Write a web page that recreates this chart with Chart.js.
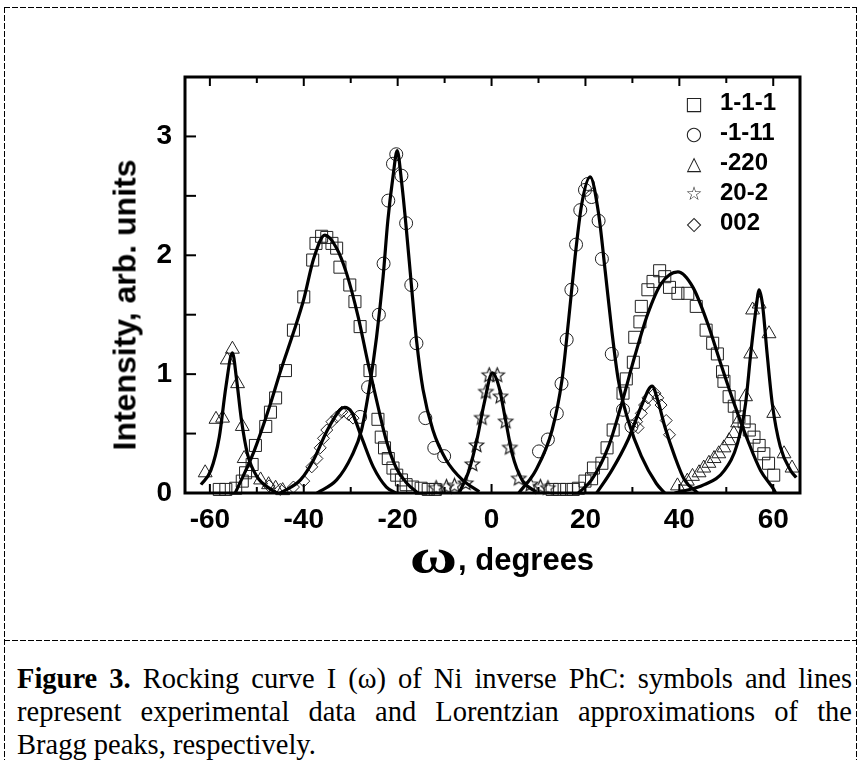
<!DOCTYPE html>
<html>
<head>
<meta charset="utf-8">
<title>Rocking curve</title>
<script src="https://cdn.jsdelivr.net/npm/chart.js@4.4.1/dist/chart.umd.min.js"></script>
<style>
    body { margin: 0; background: #fff; }
    #page { position: relative; width: 860px; height: 760px; overflow: hidden; background: #fff; }
    #chartBox { position: absolute; left: 0; top: 0; width: 860px; height: 640px; }
    .dash-h { position: absolute; height: 1px; background: repeating-linear-gradient(to right, #000 0 6px, transparent 6px 8px); }
    .dash-v { position: absolute; width: 1px; background: repeating-linear-gradient(to bottom, #000 0 6px, transparent 6px 8px); }
    #yTitle {
        position: absolute; left: 125px; top: 305px;
        transform: translate(-50%, -50%) rotate(-90deg);
        font: bold 32px "Liberation Sans", Arial, sans-serif; white-space: nowrap;
    }
    #xTitle {
        position: absolute; left: 502px; top: 556px; transform: translate(-50%, -50%);
        font: bold 31px "Liberation Sans", Arial, sans-serif; white-space: nowrap;
    }
    #xTitle .omega {
        display: inline-block; font: bold 48px "Liberation Serif", serif;
        transform: scaleX(1.35); margin: 0 7px 0 6px; vertical-align: -3px;
    }
    #legend { position: absolute; left: 678px; top: 88px; margin: 0; padding: 0; list-style: none; }
    #legend li { height: 30px; line-height: 30px; white-space: nowrap; }
    #legend .sym { display: inline-block; width: 32px; text-align: center; font: 19px "DejaVu Sans", sans-serif; color: #222; }
    #legend .txt { font: bold 24px "Liberation Sans", Arial, sans-serif; margin-left: 10px; }
    #caption { position: absolute; left: 17px; top: 662px; width: 835px; font: 28.5px "Liberation Serif", "Times New Roman", serif; line-height: 33px; }
    #caption .just { text-align: justify; text-align-last: justify; white-space: nowrap; }
</style>
</head>
<body>
<div id="page">
    <div id="chartBox"><canvas id="rockingChart"></canvas></div>
    <div id="yTitle">Intensity, arb. units</div>
    <div id="xTitle"><span class="omega">ω</span>, degrees</div>
    <ul id="legend"></ul>
    <div class="dash-h" style="left:4px; top:7px; width:853px;"></div>
    <div class="dash-v" style="left:4px; top:7px; height:753px;"></div>
    <div class="dash-v" style="left:856px; top:7px; height:753px;"></div>
    <div class="dash-h" style="left:4px; top:640px; width:853px;"></div>
    <div id="caption">
        <div class="just"><b>Figure 3.</b> Rocking curve I (ω) of Ni inverse PhC: symbols and lines</div>
        <div class="just">represent experimental data and Lorentzian approximations of the</div>
        <div>Bragg peaks, respectively.</div>
    </div>
</div>
<script>
// series names and legend symbols
const seriesLabels = ['1-1-1', '-1-11', '-220', '20-2', '002'];
const legendSymbols = ['□', '○', '△', '☆', '◇'];

// axes
const xTickLabels = [-60, -40, -20, 0, 20, 40, 60];
const yTickLabels = [0, 1, 2, 3];

// experimental points [omega, intensity]
const sqPoints = [
    [-58.0, 0.03], [-56.6, 0.03], [-54.5, 0.04], [-53.1, 0.10], [-52.4, 0.17], [-51.0, 0.24],
    [-50.3, 0.40], [-48.1, 0.56], [-47.1, 0.68], [-46.0, 0.80], [-43.9, 1.03], [-42.2, 1.37],
    [-40.0, 1.65], [-38.1, 1.96], [-37.4, 2.10], [-36.2, 2.16], [-35.1, 2.15], [-34.0, 2.10],
    [-33.0, 2.06], [-32.3, 1.90], [-30.2, 1.75], [-29.1, 1.61], [-28.0, 1.40], [-25.9, 1.03],
    [-24.2, 0.62], [-23.5, 0.47], [-22.8, 0.38], [-22.0, 0.29], [-21.0, 0.21], [-20.2, 0.15],
    [-19.2, 0.11], [-18.2, 0.07], [-16.8, 0.05], [-15.0, 0.04], [-13.5, 0.03], [-12.0, 0.03],
    [12.9, 0.03], [14.5, 0.03], [16.0, 0.03], [17.4, 0.03], [18.5, 0.04], [19.9, 0.10],
    [21.3, 0.12], [21.7, 0.21], [23.5, 0.25], [24.6, 0.38], [25.9, 0.53], [28.0, 0.84],
    [28.7, 0.96], [30.2, 1.10], [30.5, 1.31], [31.6, 1.44], [31.9, 1.57], [33.3, 1.71],
    [34.4, 1.78], [35.8, 1.87], [36.9, 1.82], [37.9, 1.73], [39.7, 1.68], [41.8, 1.68],
    [43.6, 1.57], [45.7, 1.37], [47.1, 1.26], [48.1, 1.17], [49.2, 1.02], [49.5, 0.94],
    [50.6, 0.81], [51.7, 0.73], [52.7, 0.64], [53.8, 0.60], [54.9, 0.53], [55.9, 0.47],
    [57.0, 0.40], [58.0, 0.33], [59.0, 0.25], [60.1, 0.15]
];
const ciPoints = [
    [-28.0, 0.64], [-26.3, 0.89], [-24.0, 1.50], [-23.0, 1.93], [-22.0, 2.46], [-21.0, 2.77],
    [-20.3, 2.85], [-19.2, 2.67], [-18.2, 2.27], [-17.1, 1.75], [-16.0, 1.26], [-14.1, 0.63],
    [-12.2, 0.38], [-10.1, 0.31],
    [10.1, 0.35], [12.0, 0.45], [13.9, 0.67], [14.9, 0.92], [16.0, 1.29], [17.0, 1.71],
    [18.0, 2.09], [18.9, 2.38], [19.9, 2.55], [20.5, 2.60], [21.3, 2.49], [22.8, 2.29],
    [23.5, 1.97], [25.6, 1.17], [28.0, 0.70], [29.8, 0.56]
];
const trPoints = [
    [-61.0, 0.17], [-58.7, 0.62], [-57.3, 0.63], [-56.3, 1.12], [-55.2, 1.21], [-54.1, 0.92],
    [-53.1, 0.56], [-52.7, 0.29], [-51.5, 0.17], [-49.2, 0.11], [-47.5, 0.07], [-46.0, 0.04],
    [-44.5, 0.02],
    [39.6, 0.06], [41.7, 0.10], [42.8, 0.14], [44.2, 0.17], [45.2, 0.21], [46.3, 0.25],
    [47.4, 0.29], [48.4, 0.33], [49.5, 0.38], [50.6, 0.44], [51.6, 0.50], [52.4, 0.59],
    [54.1, 0.81], [55.2, 1.17], [55.6, 1.54], [57.0, 1.59], [59.1, 1.34], [60.1, 0.67],
    [62.3, 0.33], [64.0, 0.21]
];
const stPoints = [
    [-11.8, 0.04], [-9.6, 0.05], [-7.9, 0.06], [-5.5, 0.08], [-4.1, 0.24], [-3.2, 0.40],
    [-2.1, 0.63], [-1.2, 0.85], [-0.5, 0.99], [1.2, 0.99], [1.9, 0.81], [3.0, 0.60],
    [3.9, 0.38], [5.8, 0.12], [8.3, 0.07], [10.4, 0.05], [12.0, 0.04]
];
const diPoints = [
    [-47.4, 0.06], [-45.0, 0.03], [-42.2, 0.05], [-40.0, 0.10], [-38.3, 0.22], [-37.2, 0.29],
    [-36.5, 0.38], [-35.8, 0.46], [-35.1, 0.53], [-34.0, 0.60], [-33.0, 0.64], [-31.9, 0.68],
    [-30.5, 0.66], [-29.5, 0.63],
    [30.9, 0.60], [31.2, 0.55], [31.9, 0.67], [32.6, 0.74], [33.3, 0.80], [34.8, 0.84],
    [35.4, 0.80], [36.1, 0.74], [37.2, 0.61], [37.9, 0.49]
];

// Lorentzian fit lines
const fitSqLeft = [
    [-54.6, 0], [-50.6, 0.35], [-47.1, 0.75], [-45.0, 1.02], [-42.2, 1.35], [-40.0, 1.63],
    [-37.9, 1.97], [-35.5, 2.17], [-33.0, 2.06], [-30.9, 1.85], [-28.4, 1.48], [-26.3, 1.09],
    [-24.2, 0.73], [-22.4, 0.44], [-20.3, 0.21], [-18.0, 0.08], [-15.7, 0]
];
const fitSqRight = [
    [18.5, 0], [21.3, 0.11], [24.9, 0.39], [27.7, 0.75], [30.5, 1.15], [33.3, 1.51],
    [36.1, 1.76], [39.7, 1.86], [42.9, 1.73], [46.0, 1.43], [48.8, 1.09], [51.7, 0.75],
    [54.5, 0.45], [57.3, 0.19], [60.1, 0.03], [60.5, 0]
];
const fitCiLeft = [
    [-37.2, 0], [-33.0, 0.11], [-29.8, 0.31], [-27.7, 0.53], [-25.9, 0.92], [-24.5, 1.31],
    [-23.1, 1.82], [-22.1, 2.29], [-21.0, 2.66], [-20.1, 2.88], [-19.2, 2.63], [-18.2, 2.24],
    [-17.1, 1.76], [-16.0, 1.29], [-14.6, 0.87], [-12.5, 0.53], [-9.7, 0.28], [-6.2, 0.11],
    [-2.6, 0.01]
];
const fitCiRight = [
    [5.8, 0], [9.4, 0.19], [12.9, 0.53], [15.0, 0.95], [16.4, 1.45], [17.8, 1.99],
    [19.2, 2.43], [21.0, 2.66], [22.8, 2.35], [24.2, 1.87], [25.6, 1.37], [27.0, 0.95],
    [29.1, 0.61], [31.9, 0.31], [35.1, 0.08], [36.9, 0]
];
const fitTrLeft = [
    [-61.9, 0.07], [-59.8, 0.19], [-58.0, 0.47], [-56.6, 0.89], [-55.2, 1.18], [-54.3, 0.95],
    [-53.3, 0.62], [-52.0, 0.33], [-50.0, 0.14], [-47.0, 0.03], [-45.7, 0]
];
const fitTrRight = [
    [39.0, 0], [45.3, 0.07], [49.6, 0.19], [52.4, 0.42], [54.1, 0.75], [55.2, 1.17],
    [56.3, 1.54], [57.0, 1.71], [57.7, 1.59], [58.7, 1.17], [59.8, 0.75], [61.5, 0.39],
    [63.7, 0.19], [64.9, 0.13]
];
const fitSt = [
    [-6.9, 0], [-4.8, 0.19], [-3.0, 0.47], [-1.6, 0.75], [0.2, 1.01], [1.6, 0.89],
    [3.0, 0.61], [4.4, 0.33], [6.5, 0.11], [9.4, 0.01]
];
const fitDiLeft = [
    [-45.0, 0], [-40.7, 0.11], [-37.9, 0.28], [-35.1, 0.52], [-32.3, 0.70], [-31.3, 0.72],
    [-29.8, 0.68], [-27.7, 0.47], [-25.2, 0.22], [-22.4, 0.05], [-20.3, 0]
];
const fitDiRight = [
    [22.4, 0], [25.6, 0.19], [29.1, 0.45], [31.9, 0.73], [34.2, 0.90], [35.4, 0.78],
    [36.9, 0.56], [39.0, 0.31], [41.1, 0.11], [43.9, 0]
];

document.addEventListener('DOMContentLoaded', function() {
    const toXY = arr => arr.map(p => ({ x: p[0], y: p[1] }));
    const ink = '#222';

    // five-point open star, Chart.js has no such point style
    function starCanvas(r) {
        const c = document.createElement('canvas');
        const s = Math.ceil(r * 2 + 4);
        c.width = c.height = s;
        const g = c.getContext('2d');
        g.strokeStyle = ink;
        g.lineWidth = 1.2;
        g.beginPath();
        for (let k = 0; k < 10; k++) {
            const rad = k % 2 ? r * 0.45 : r;
            const a = -Math.PI / 2 + k * Math.PI / 5;
            const px = s / 2 + rad * Math.cos(a), py = s / 2 + rad * Math.sin(a);
            if (k) g.lineTo(px, py); else g.moveTo(px, py);
        }
        g.closePath();
        g.stroke();
        return c;
    }

    // legend in the top right corner of the plot
    const legend = document.getElementById('legend');
    seriesLabels.forEach((label, i) => {
        const li = document.createElement('li');
        li.innerHTML = '<span class="sym">' + legendSymbols[i] + '</span><span class="txt">' + label + '</span>';
        legend.appendChild(li);
    });

    function markers(label, pts, style, radius) {
        return {
            label: label,
            data: toXY(pts),
            showLine: false,
            pointStyle: style,
            pointRadius: radius,
            pointHoverRadius: radius,
            pointBorderWidth: 1,
            borderColor: ink,
            backgroundColor: 'rgba(0,0,0,0)',
            clip: false
        };
    }

    function fitLine(pts) {
        return {
            label: 'fit',
            data: toXY(pts),
            showLine: true,
            pointRadius: 0,
            borderColor: '#000',
            borderWidth: 3.2,
            cubicInterpolationMode: 'monotone',
            fill: false
        };
    }

    // inward ticks and the box round the plot
    const frameTicks = {
        id: 'frameTicks',
        afterDraw(chart) {
            const ctx = chart.ctx;
            const a = chart.chartArea;
            const xs = chart.scales.x, ys = chart.scales.y;
            ctx.save();
            ctx.strokeStyle = '#000';
            ctx.lineWidth = 2;
            for (let v = -60; v <= 60; v += 10) {
                const px = xs.getPixelForValue(v);
                const len = v % 20 === 0 ? 9 : 6;
                ctx.beginPath();
                ctx.moveTo(px, a.bottom); ctx.lineTo(px, a.bottom - len);
                ctx.moveTo(px, a.top); ctx.lineTo(px, a.top + len);
                ctx.stroke();
            }
            for (let v = 0.5; v < 3.5; v += 0.5) {
                const py = ys.getPixelForValue(v);
                ctx.beginPath();
                ctx.moveTo(a.left, py); ctx.lineTo(a.left + 11, py);
                ctx.stroke();
            }
            ctx.lineWidth = 3;
            ctx.strokeRect(a.left, a.top, a.right - a.left, a.bottom - a.top);
            ctx.restore();
        }
    };

    const tickFont = { family: '"Liberation Sans", Arial, sans-serif', size: 28, weight: 'bold' };

    new Chart(document.getElementById('rockingChart'), {
        type: 'scatter',
        data: {
            datasets: [
                fitLine(fitSqLeft), fitLine(fitSqRight),
                fitLine(fitCiLeft), fitLine(fitCiRight),
                fitLine(fitTrLeft), fitLine(fitTrRight),
                fitLine(fitSt),
                fitLine(fitDiLeft), fitLine(fitDiRight),
                markers(seriesLabels[0], sqPoints, 'rect', 8.5),
                markers(seriesLabels[1], ciPoints, 'circle', 6.5),
                markers(seriesLabels[2], trPoints, 'triangle', 8),
                markers(seriesLabels[3], stPoints, starCanvas(7.5), 7.5),
                markers(seriesLabels[4], diPoints, 'rectRot', 6)
            ]
        },
        options: {
            responsive: true,
            maintainAspectRatio: false,
            animation: false,
            layout: { padding: { left: 110, top: 77, right: 60, bottom: 0 } },
            plugins: {
                legend: { display: false },
                tooltip: { enabled: false }
            },
            scales: {
                x: {
                    type: 'linear',
                    min: -65.3,
                    max: 65.7,
                    grid: { display: false, drawTicks: false },
                    border: { display: false },
                    afterBuildTicks: scale => { scale.ticks = xTickLabels.map(v => ({ value: v })); },
                    afterFit: scale => { scale.height = 147; },
                    ticks: { color: '#000', font: tickFont, padding: 10, maxRotation: 0 }
                },
                y: {
                    type: 'linear',
                    min: 0,
                    max: 3.5,
                    grid: { display: false, drawTicks: false },
                    border: { display: false },
                    afterFit: scale => { scale.width = 75; },
                    ticks: {
                        stepSize: 0.5,
                        color: '#000',
                        font: tickFont,
                        padding: 13,
                        callback: v => yTickLabels.includes(v) ? v : ''
                    }
                }
            }
        },
        plugins: [frameTicks]
    });
});
</script>
</body>
</html>
